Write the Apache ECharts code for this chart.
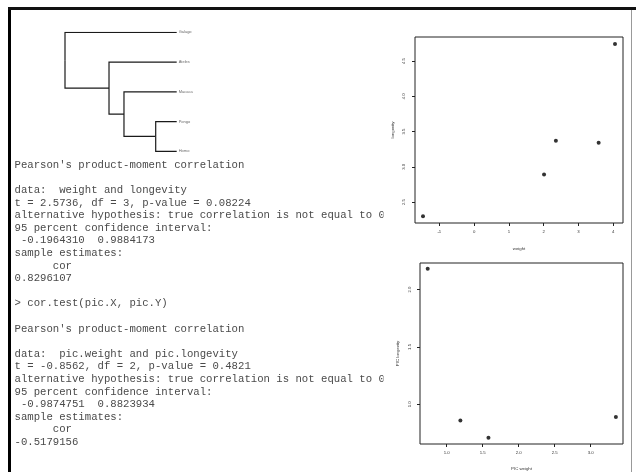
<!DOCTYPE html>
<html><head><meta charset="utf-8">
<script src="https://cdn.jsdelivr.net/npm/echarts@6/dist/echarts.min.js"></script>
<style>html,body{margin:0;padding:0;background:#fff}#c{width:636px;height:472px}</style>
</head><body><div id="c"></div>
<script>
// ---- phylogeny ----
const taxa = ['Galago', 'Ateles', 'Macaca', 'Pongo', 'Homo'];
const taxaOrder = [1, 2, 3, 4, 5];
const tipDepth = [1, 1, 1, 1, 1];
const innerNodes = ['root', 'A', 'B', 'C'];
const innerDepth = [0, 0.394, 0.528, 0.812];
const innerY = [1.9375, 2.875, 3.75, 4.5];
const edges = [['root', 'Galago'], ['root', 'A'], ['A', 'Ateles'], ['A', 'B'], ['B', 'Macaca'], ['B', 'C'], ['C', 'Pongo'], ['C', 'Homo']];

// ---- scatter 1 ----
const weight = [-1.47, 2.01, 2.35, 3.58, 4.05];
const longevity = [2.30, 2.89, 3.37, 3.34, 4.74];
const xTicks1 = [-1, 0, 1, 2, 3, 4];
const yTicks1 = [2.5, 3.0, 3.5, 4.0, 4.5];

// ---- scatter 2 ----
const picWeight = [0.736, 1.19, 1.58, 3.35];
const picLongevity = [2.18, 0.86, 0.71, 0.89];
const xTicks2 = [1.0, 1.5, 2.0, 2.5, 3.0];
const yTicks2 = [1.0, 1.5, 2.0];

// ---- console text ----
const consoleLines = [
  "Pearson's product-moment correlation",
  "",
  "data:  weight and longevity",
  "t = 2.5736, df = 3, p-value = 0.08224",
  "alternative hypothesis: true correlation is not equal to 0",
  "95 percent confidence interval:",
  " -0.1964310  0.9884173",
  "sample estimates:",
  "      cor",
  "0.8296107",
  "",
  "> cor.test(pic.X, pic.Y)",
  "",
  "Pearson's product-moment correlation",
  "",
  "data:  pic.weight and pic.longevity",
  "t = -0.8562, df = 2, p-value = 0.4821",
  "alternative hypothesis: true correlation is not equal to 0",
  "95 percent confidence interval:",
  " -0.9874751  0.8823934",
  "sample estimates:",
  "      cor",
  "-0.5179156"
];

const pos = {};
taxa.forEach((t, i) => pos[t] = [tipDepth[i], taxaOrder[i]]);
innerNodes.forEach((n, i) => pos[n] = [innerDepth[i], innerY[i]]);
const edgeData = edges.map(([p, c]) => ({coords: [pos[p], [pos[p][0], pos[c][1]], pos[c]]}));

const chart = echarts.init(document.getElementById('c'), null, {renderer: 'canvas'});

const graphics = [];
consoleLines.forEach((t, i) => {
  graphics.push({type: 'text', x: 14.5, y: 165 + i * 12.6, z: 0,
    style: {text: t, font: '10.65px "Liberation Mono", "Courier New", monospace', fill: '#4a4a4a', verticalAlign: 'middle', align: 'left'}});
});
graphics.push({type: 'rect', z: 1, shape: {x: 383.5, y: 11, width: 247.5, height: 461}, style: {fill: '#fff'}});
graphics.push({type: 'rect', z: 10, shape: {x: 8, y: 7, width: 3, height: 465}, style: {fill: '#000'}});
graphics.push({type: 'rect', z: 10, shape: {x: 8, y: 7, width: 628, height: 3}, style: {fill: '#111'}});
graphics.push({type: 'rect', z: 10, shape: {x: 631, y: 10, width: 1, height: 462}, style: {fill: '#999'}});

const tickFont = {fontSize: 4.3, color: '#333', fontFamily: 'Liberation Sans, Arial, sans-serif'};
function sciAxis(grid, min, max, ticks, name, gap, margin, isY, fmt) {
  return {
    type: 'value', gridIndex: grid, min: min, max: max, z: 3,
    name: name, nameLocation: 'middle', nameGap: gap,
    nameTextStyle: {fontSize: 4.3, color: '#333', fontFamily: 'Liberation Sans, Arial, sans-serif'},
    axisLine: {show: false, onZero: false},
    splitLine: {show: false},
    axisTick: {show: true, customValues: ticks, length: 3, inside: false, lineStyle: {color: '#222', width: 1}},
    axisLabel: Object.assign({show: true, customValues: ticks, margin: margin, rotate: isY ? 90 : 0, formatter: fmt}, tickFont)
  };
}
const f0 = v => String(Math.round(v));
const f1 = v => Number(v).toFixed(1);

chart.setOption({
  animation: false,
  backgroundColor: '#fff',
  graphic: {elements: graphics},
  grid: [
    {left: 65, top: 32.3, width: 111.7, height: 119, show: false},
    {left: 415, top: 37, width: 208, height: 186, show: true, z: 3, borderColor: '#222', borderWidth: 1, backgroundColor: 'transparent'},
    {left: 420, top: 263, width: 203, height: 181, show: true, z: 3, borderColor: '#222', borderWidth: 1, backgroundColor: 'transparent'}
  ],
  xAxis: [
    {type: 'value', gridIndex: 0, min: 0, max: 1, show: false},
    sciAxis(1, -1.70, 4.28, xTicks1, 'weight', 24, 7, false, f0),
    sciAxis(2, 0.629, 3.449, xTicks2, 'PIC weight', 23, 7, false, f1)
  ],
  yAxis: [
    {type: 'value', gridIndex: 0, min: 1, max: 5, inverse: true, show: false},
    sciAxis(1, 2.203, 4.84, yTicks1, 'longevity', 20, 9, true, f1),
    sciAxis(2, 0.655, 2.231, yTicks2, 'PIC longevity', 20, 8.5, true, f1)
  ],
  series: [
    {type: 'lines', coordinateSystem: 'cartesian2d', xAxisIndex: 0, yAxisIndex: 0, polyline: true, z: 4,
      lineStyle: {color: '#1a1a1a', width: 1.2, opacity: 1}, data: edgeData, silent: true},
    {type: 'scatter', xAxisIndex: 0, yAxisIndex: 0, symbolSize: 0, z: 4,
      data: taxa.map((t, i) => [tipDepth[i], taxaOrder[i], t]),
      label: {show: true, position: 'right', distance: 2, formatter: p => p.data[2], fontSize: 4, color: '#444', fontFamily: 'Liberation Sans, Arial, sans-serif'}},
    {type: 'scatter', xAxisIndex: 1, yAxisIndex: 1, symbol: 'circle', symbolSize: 4, z: 4,
      itemStyle: {color: '#000'}, data: weight.map((w, i) => [w, longevity[i]])},
    {type: 'scatter', xAxisIndex: 2, yAxisIndex: 2, symbol: 'circle', symbolSize: 4, z: 4,
      itemStyle: {color: '#000'}, data: picWeight.map((w, i) => [w, picLongevity[i]])}
  ]
});
</script>
</body></html>
